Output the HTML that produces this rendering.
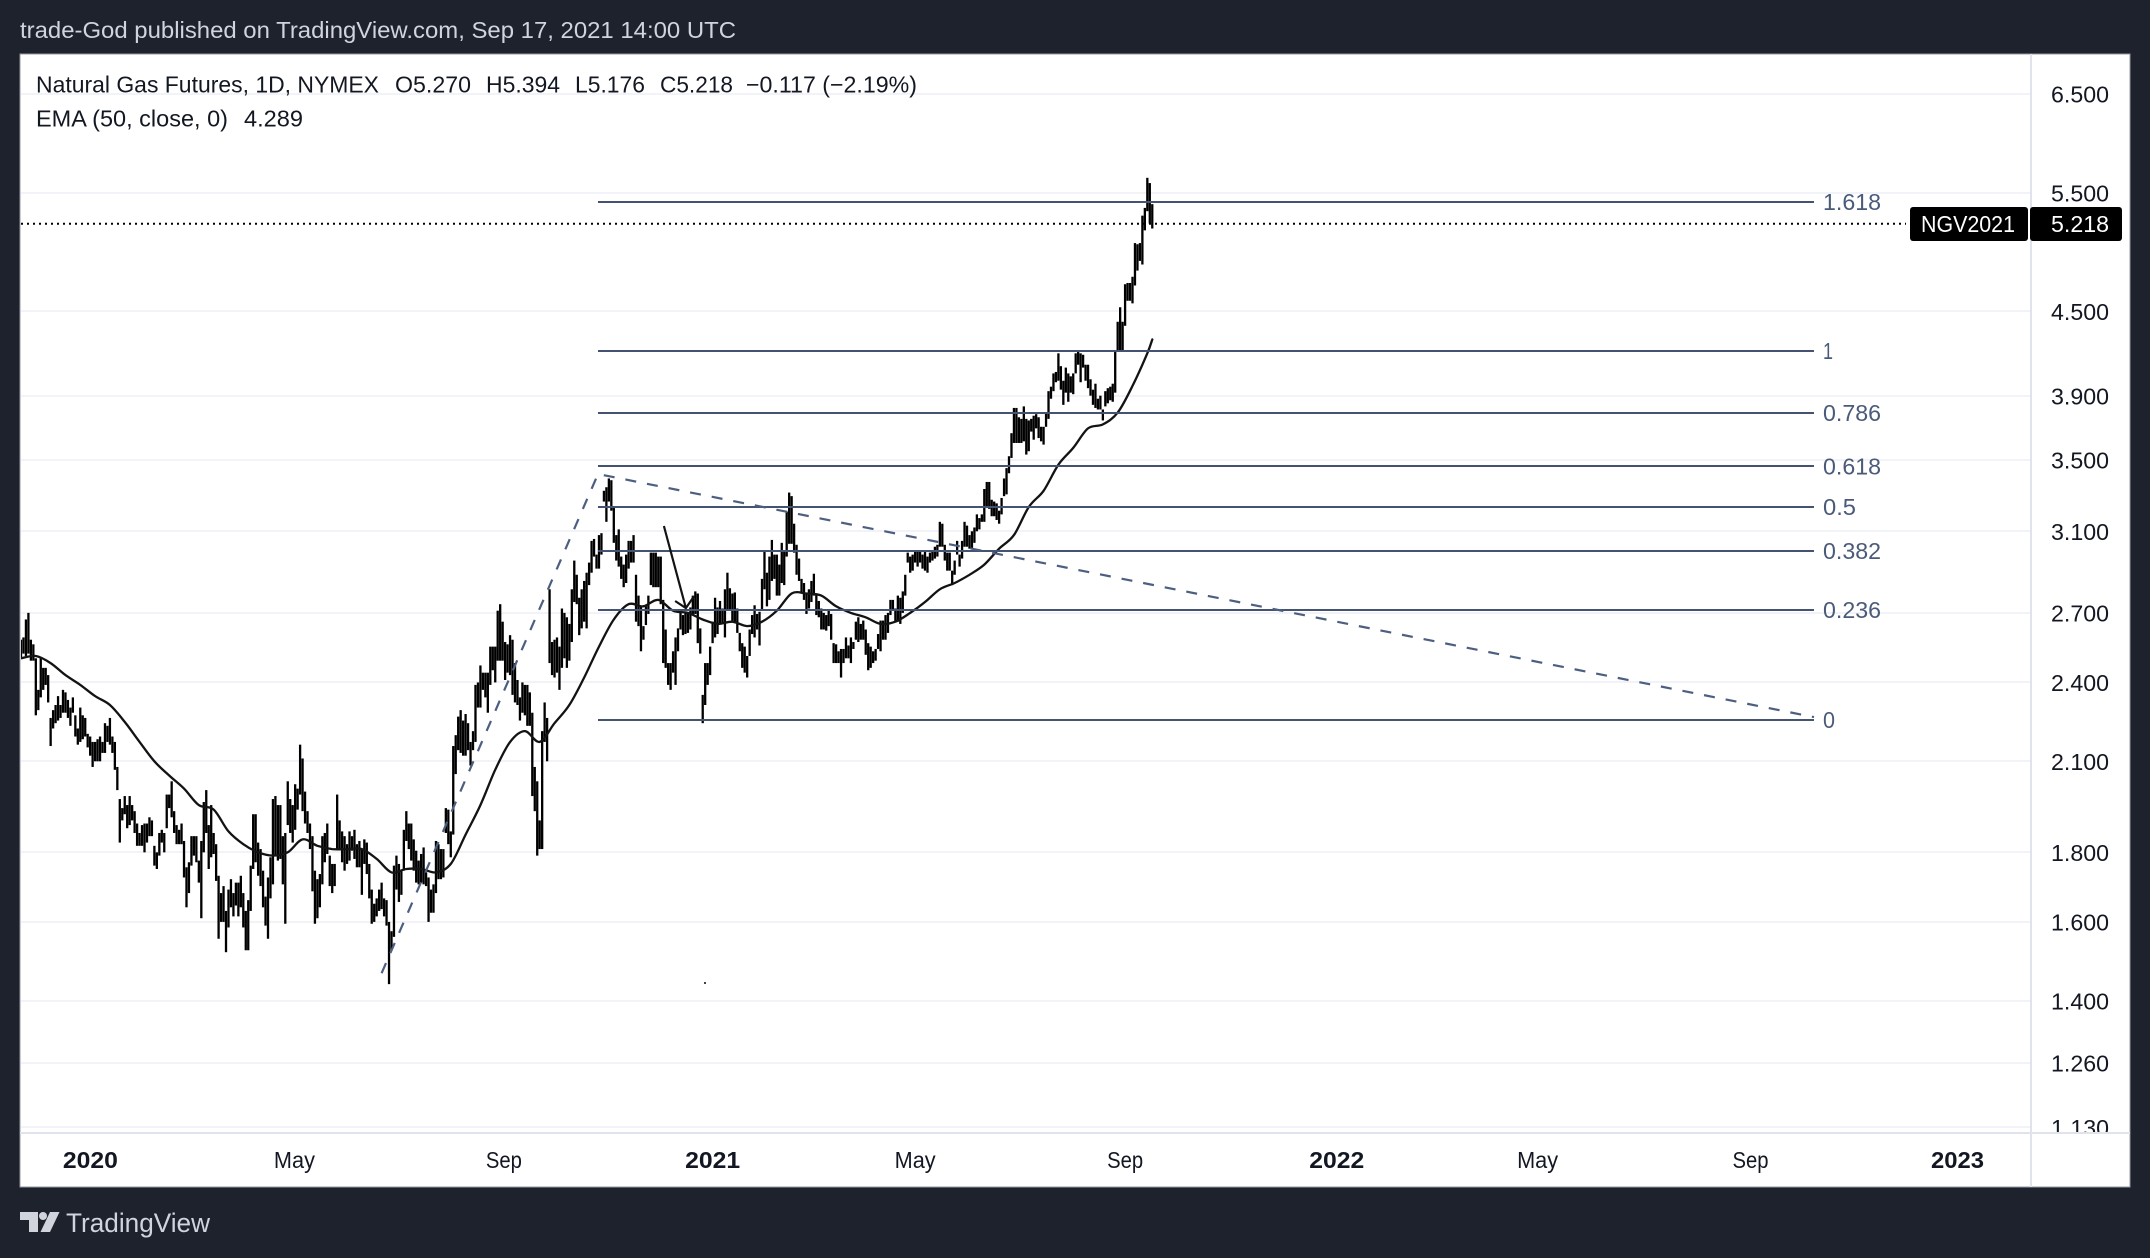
<!DOCTYPE html>
<html lang="en">
<head>
<meta charset="utf-8">
<title>Natural Gas Futures chart</title>
<style>
html,body{margin:0;padding:0;background:#1e222d;width:2150px;height:1258px;overflow:hidden}
svg{display:block;font-family:"Liberation Sans",sans-serif}
</style>
</head>
<body>
<svg id="chart" xmlns="http://www.w3.org/2000/svg" width="2150" height="1258" viewBox="0 0 2150 1258">
  <defs>
    <clipPath id="pane-clip"><rect x="21" y="55" width="2009" height="1077"/></clipPath>
    <clipPath id="axis-clip"><rect x="2032" y="55" width="97" height="1077"/></clipPath>
  </defs>
  <rect x="0" y="0" width="2150" height="1258" fill="#1e222d"/>
  <text x="20" y="38" font-size="23" fill="#d1d4dc" textLength="716" lengthAdjust="spacingAndGlyphs">trade-God published on TradingView.com, Sep 17, 2021 14:00 UTC</text>
  <rect x="20" y="54" width="2110" height="1133" fill="#ffffff" stroke="#9598a1" stroke-width="1"/>
  <g id="grid"></g>
  <g clip-path="url(#pane-clip)">
    <g id="bars"></g>
    <path id="ema" fill="none" stroke="#131313" stroke-width="2.3" stroke-linejoin="round" stroke-linecap="round"/>
    <g id="fib"></g>
    <path id="trend" fill="none" stroke="#4d5f80" stroke-width="2.2" stroke-dasharray="11 11"/>
    <path id="arrow" fill="none" stroke="#131313" stroke-width="2.2"/>
    <rect x="704" y="982" width="2" height="2" fill="#444"/>
    <line id="lastLine" x1="21" x2="1906" stroke="#000" stroke-width="2" stroke-dasharray="2 4"/>
  </g>
  <rect x="2030" y="54" width="2" height="1133" fill="#e0e3eb"/>
  <rect x="20" y="1132" width="2110" height="2" fill="#e0e3eb"/>
  <g id="yLabels" clip-path="url(#axis-clip)"></g>
  <g id="xLabels"></g>

  <g font-size="23" fill="#131722">
    <text x="36" y="92.5" textLength="343" lengthAdjust="spacingAndGlyphs">Natural Gas Futures, 1D, NYMEX</text>
    <text x="395" y="92.5" textLength="76" lengthAdjust="spacingAndGlyphs">O5.270</text>
    <text x="486" y="92.5" textLength="74" lengthAdjust="spacingAndGlyphs">H5.394</text>
    <text x="575" y="92.5" textLength="70" lengthAdjust="spacingAndGlyphs">L5.176</text>
    <text x="660" y="92.5" textLength="73" lengthAdjust="spacingAndGlyphs">C5.218</text>
    <text x="746" y="92.5" textLength="171" lengthAdjust="spacingAndGlyphs">−0.117 (−2.19%)</text>
    <text x="36" y="126.5" textLength="192" lengthAdjust="spacingAndGlyphs">EMA (50, close, 0)</text>
    <text x="244" y="126.5" textLength="59" lengthAdjust="spacingAndGlyphs">4.289</text>
  </g>

  <g id="lastTag">
    <rect x="1910" y="207" width="118" height="34" rx="3" fill="#000"/>
    <rect x="2030" y="207" width="92" height="34" rx="3" fill="#000"/>
    <text x="1921" y="232" font-size="23" fill="#fff" textLength="94" lengthAdjust="spacingAndGlyphs">NGV2021</text>
    <text x="2051" y="232" font-size="23" fill="#fff" textLength="58" lengthAdjust="spacingAndGlyphs">5.218</text>
  </g>

  <g fill="#d1d4dc">
    <path d="M20 1212h18v20h-9v-12h-9z"/>
    <circle cx="43" cy="1216" r="4"/>
    <polygon points="50,1212 59.5,1212 50,1232 40.5,1232"/>
    <text x="66" y="1232" font-size="27" textLength="144" lengthAdjust="spacingAndGlyphs">TradingView</text>
  </g>
</svg>
<script>
const highs = [
2.58,2.59,2.67,2.70,2.58,2.56,2.50,2.37,2.50,2.46,
2.46,2.43,2.26,2.29,2.31,2.345,2.31,2.37,2.36,2.33,
2.30,2.34,2.27,2.22,2.30,2.27,2.26,2.20,2.19,2.17,
2.17,2.18,2.19,2.17,2.24,2.23,2.26,2.19,2.17,2.08,
1.97,1.94,1.98,1.95,1.98,1.95,1.93,1.89,1.86,1.885,
1.89,1.89,1.91,1.90,1.82,1.80,1.86,1.87,1.86,1.985,
1.985,2.03,1.93,1.885,1.87,1.89,1.835,1.755,1.77,1.85,
1.85,1.85,1.775,1.835,1.96,2.00,1.885,1.95,1.86,1.825,
1.73,1.68,1.70,1.63,1.69,1.72,1.68,1.71,1.71,1.73,
1.68,1.63,1.66,1.76,1.92,1.92,1.83,1.81,1.745,1.67,
1.725,1.785,1.97,1.98,1.95,1.95,1.85,1.86,2.03,1.97,
1.95,2.02,2.005,2.16,2.11,1.995,1.93,1.89,1.85,1.745,
1.72,1.735,1.85,1.86,1.89,1.79,1.765,1.765,1.985,1.90,
1.865,1.85,1.825,1.865,1.85,1.87,1.825,1.835,1.81,1.84,
1.83,1.765,1.69,1.65,1.665,1.69,1.71,1.665,1.66,1.60,
1.575,1.76,1.79,1.765,1.745,1.87,1.93,1.89,1.89,1.84,
1.805,1.775,1.795,1.815,1.74,1.725,1.69,1.705,1.835,1.825,
1.81,1.81,1.94,1.935,1.865,2.155,2.195,2.265,2.29,2.25,
2.275,2.24,2.17,2.21,2.39,2.40,2.47,2.44,2.44,2.44,
2.55,2.55,2.55,2.71,2.74,2.66,2.57,2.56,2.60,2.58,
2.48,2.41,2.34,2.40,2.39,2.39,2.36,2.28,2.08,2.03,
1.90,2.21,2.32,2.26,2.81,2.57,2.58,2.59,2.55,2.72,
2.70,2.68,2.65,2.81,2.95,2.88,2.77,2.81,2.85,2.89,
2.94,3.05,3.06,2.98,3.08,3.09,3.32,3.34,3.39,3.38,
3.23,3.08,3.11,2.97,2.93,2.98,3.05,3.05,3.08,2.88,
2.78,2.73,2.64,2.73,2.78,2.99,2.99,2.99,2.97,2.97,
2.76,2.625,2.48,2.48,2.53,2.59,2.63,2.70,2.69,2.70,
2.70,2.725,2.78,2.80,2.79,2.63,2.35,2.48,2.48,2.55,
2.66,2.77,2.725,2.755,2.72,2.81,2.89,2.815,2.79,2.795,
2.72,2.61,2.565,2.55,2.51,2.625,2.69,2.735,2.695,2.705,
2.86,2.995,2.89,2.97,3.055,2.98,2.98,2.93,3.04,2.995,
3.205,3.31,3.29,3.14,3.03,2.96,2.86,2.84,2.79,2.81,
2.85,2.885,2.79,2.755,2.72,2.70,2.69,2.715,2.695,2.565,
2.56,2.53,2.54,2.54,2.59,2.555,2.59,2.57,2.66,2.68,
2.65,2.665,2.625,2.565,2.55,2.53,2.54,2.605,2.665,2.665,
2.69,2.70,2.76,2.76,2.72,2.78,2.77,2.80,2.88,2.99,
2.97,2.98,3.00,3.00,3.00,2.98,3.00,2.97,2.99,3.00,
3.02,3.03,3.15,3.14,3.03,2.99,2.99,2.90,2.95,3.05,
2.98,3.05,3.15,3.13,3.08,3.10,3.12,3.19,3.17,3.19,
3.33,3.37,3.37,3.27,3.26,3.25,3.21,3.28,3.39,3.45,
3.52,3.66,3.82,3.82,3.76,3.75,3.83,3.75,3.74,3.75,
3.77,3.78,3.76,3.70,3.70,3.79,3.93,3.96,4.05,4.06,
4.19,4.10,4.00,4.09,4.05,4.03,4.05,4.19,4.20,4.19,
4.18,4.11,4.11,4.01,3.94,3.98,3.88,3.90,3.81,3.93,
3.95,3.96,3.98,4.21,4.42,4.53,4.42,4.71,4.72,4.72,
4.77,5.05,5.04,5.05,5.29,5.36,5.64,5.59,5.394
];
const lows = [
2.50,2.52,2.51,2.52,2.49,2.49,2.27,2.29,2.34,2.37,
2.39,2.32,2.155,2.22,2.24,2.25,2.26,2.28,2.28,2.26,
2.23,2.28,2.19,2.16,2.17,2.18,2.19,2.15,2.12,2.08,
2.10,2.10,2.10,2.13,2.13,2.17,2.16,2.13,2.07,2.00,
1.83,1.90,1.92,1.875,1.885,1.90,1.86,1.82,1.82,1.82,
1.80,1.83,1.85,1.85,1.76,1.75,1.79,1.83,1.80,1.875,
1.94,1.91,1.86,1.825,1.825,1.825,1.725,1.64,1.68,1.76,
1.79,1.77,1.71,1.61,1.80,1.86,1.75,1.785,1.795,1.715,
1.555,1.60,1.60,1.52,1.585,1.64,1.615,1.645,1.615,1.64,
1.585,1.525,1.525,1.63,1.75,1.77,1.73,1.70,1.64,1.59,
1.555,1.665,1.705,1.79,1.775,1.78,1.705,1.595,1.885,1.86,
1.83,1.87,1.935,1.985,1.93,1.89,1.86,1.81,1.685,1.595,
1.61,1.64,1.705,1.77,1.795,1.70,1.68,1.70,1.81,1.81,
1.77,1.745,1.765,1.775,1.805,1.78,1.755,1.755,1.675,1.765,
1.735,1.665,1.595,1.60,1.615,1.63,1.635,1.615,1.59,1.44,
1.525,1.56,1.69,1.655,1.675,1.745,1.835,1.81,1.775,1.745,
1.71,1.705,1.71,1.705,1.70,1.60,1.625,1.625,1.68,1.72,
1.72,1.725,1.86,1.825,1.785,1.855,2.055,2.14,2.13,2.12,
2.12,2.14,2.085,2.14,2.17,2.30,2.30,2.37,2.34,2.28,
2.39,2.45,2.40,2.49,2.49,2.49,2.41,2.44,2.43,2.35,
2.32,2.31,2.25,2.28,2.27,2.23,2.23,1.98,1.93,1.79,
1.81,1.81,2.17,2.10,2.48,2.43,2.42,2.44,2.37,2.46,
2.50,2.46,2.49,2.57,2.75,2.74,2.60,2.63,2.66,2.63,
2.83,2.89,2.97,2.91,2.91,2.98,3.26,3.15,3.26,3.21,
3.04,2.95,2.92,2.86,2.82,2.84,2.91,2.94,2.94,2.66,
2.64,2.53,2.58,2.645,2.695,2.83,2.82,2.82,2.82,2.74,
2.48,2.46,2.39,2.37,2.44,2.39,2.53,2.625,2.60,2.605,
2.61,2.625,2.695,2.695,2.565,2.52,2.24,2.31,2.39,2.43,
2.565,2.59,2.605,2.65,2.65,2.59,2.71,2.71,2.665,2.66,
2.61,2.53,2.46,2.44,2.42,2.51,2.605,2.59,2.625,2.555,
2.71,2.81,2.73,2.76,2.85,2.86,2.78,2.78,2.84,2.83,
2.97,3.035,3.035,2.99,2.88,2.85,2.79,2.76,2.695,2.72,
2.75,2.78,2.69,2.68,2.625,2.625,2.62,2.64,2.58,2.48,
2.48,2.48,2.42,2.48,2.50,2.50,2.48,2.54,2.58,2.57,
2.58,2.58,2.515,2.45,2.46,2.48,2.49,2.54,2.53,2.58,
2.58,2.61,2.69,2.71,2.66,2.66,2.65,2.70,2.78,2.94,
2.89,2.90,2.94,2.92,2.94,2.91,2.90,2.89,2.94,2.95,
2.96,2.97,3.02,3.02,2.95,2.90,2.90,2.83,2.88,2.98,
2.92,2.96,3.02,3.02,3.01,3.01,3.04,3.10,3.11,3.15,
3.15,3.23,3.22,3.18,3.18,3.16,3.14,3.19,3.29,3.30,
3.42,3.51,3.60,3.60,3.60,3.60,3.61,3.53,3.55,3.67,
3.62,3.69,3.63,3.61,3.59,3.70,3.75,3.88,3.93,3.99,
4.00,3.94,3.84,3.92,3.86,3.92,3.91,4.05,4.11,3.99,
4.09,4.00,3.95,3.90,3.84,3.82,3.81,3.81,3.74,3.83,
3.85,3.87,3.86,3.92,4.21,4.21,4.21,4.39,4.58,4.58,
4.56,4.70,4.82,4.90,4.87,5.16,5.33,5.22,5.176
];
/* EMA(50) at every sixth bar; final value is the last bar */
const emaEverySixthBar = [
2.50,2.51,2.48,2.43,2.39,2.345,2.31,2.245,2.17,2.10,
2.05,2.005,1.95,1.935,1.865,1.825,1.80,1.79,1.80,1.84,
1.82,1.81,1.81,1.81,1.78,1.74,1.75,1.75,1.74,1.765,
1.855,1.95,2.07,2.17,2.21,2.17,2.24,2.31,2.42,2.55,
2.67,2.74,2.73,2.76,2.71,2.70,2.67,2.65,2.66,2.64,
2.66,2.71,2.79,2.79,2.78,2.73,2.70,2.68,2.65,2.66,
2.70,2.75,2.81,2.84,2.88,2.93,3.01,3.08,3.23,3.32,
3.47,3.57,3.69,3.715,3.79,3.965,4.19,4.289
];
const priceTicks = [6.5,5.5,4.5,3.9,3.5,3.1,2.7,2.4,2.1,1.8,1.6,1.4,1.26,1.13];
const timeTickLabels = ["2020","May","Sep","2021","May","Sep","2022","May","Sep","2023"];
const timeTickBars = [28.1,110.7,195.5,280,362,447,532.7,614,700.2,784];
const timeTickBold = [true,false,false,true,false,false,true,false,false,true];
const timeTickWidths = [55,41,36,55,41,36,55,41,36,53];
const fibRatios = [1.618,1,0.786,0.618,0.5,0.382,0.236,0];
const fibLabels = ["1.618","1","0.786","0.618","0.5","0.382","0.236","0"];
const fibLabelWidths = [58,10,58,58,33,58,58,12];
const fibZeroPrice = 2.253;
const fibOnePrice = 4.206;
const fibStartBar = 233.6;
const fibEndBar = 725.9;
const trendBars = [146,233.6,725.9];
const trendPrices = [1.467,3.416,2.263];
const arrowShaftBars = [260.3,269.2];
const arrowShaftPrices = [3.128,2.722];
const arrowHeadBars = [264.8,269.2,272.5];
const arrowHeadPrices = [2.755,2.722,2.778];
const lastPrice = 5.218;

const NS = "http://www.w3.org/2000/svg";
function xScale(bar){ return 21 + 2.47 * bar; }
function yScale(price){ return 94 + 590.6 * (Math.log(6.5) - Math.log(price)); }
function make(tag, parent, attrs, text){
  const el = document.createElementNS(NS, tag);
  for (const k in attrs) el.setAttribute(k, attrs[k]);
  if (text !== undefined) el.textContent = text;
  parent.appendChild(el);
  return el;
}

const gridG = document.getElementById("grid");
const yG = document.getElementById("yLabels");
priceTicks.forEach(function(p){
  const y = yScale(p);
  const g = make("line", gridG, {x1:21, x2:2030, y1:Math.round(y), y2:Math.round(y), stroke:"#f1f3f8", "stroke-width":2});
  
  
  const t = make("text", yG, {x:2051, y:y + 8.7, "font-size":23, fill:"#131722", textLength:58, lengthAdjust:"spacingAndGlyphs"}, p.toFixed(3));
  
  
});

const xG = document.getElementById("xLabels");
timeTickLabels.forEach(function(label, i){
  const w = timeTickWidths[i];
  const t = make("text", xG, {x:xScale(timeTickBars[i]) - w / 2, y:1168, "font-size":23, fill:"#131722", "font-weight":timeTickBold[i] ? "bold" : "normal", textLength:w, lengthAdjust:"spacingAndGlyphs"}, label);
  
  
});

const barsG = document.getElementById("bars");
highs.forEach(function(h, i){
  const top = yScale(h), bottom = yScale(lows[i]);
  const r = make("rect", barsG, {x:xScale(i) - 1.15, y:top, width:2.3, height:bottom - top, fill:"#000"});
  
  
});

const lastBar = highs.length - 1;
const emaPts = emaEverySixthBar.map(function(v, k){
  return [xScale(Math.min(k * 6, lastBar)), yScale(v)];
});
let emaPath = "M" + emaPts[0][0].toFixed(1) + " " + emaPts[0][1].toFixed(1);
for (let i = 0; i < emaPts.length - 1; i++) {
  const p0 = emaPts[Math.max(i - 1, 0)], p1 = emaPts[i], p2 = emaPts[i + 1], p3 = emaPts[Math.min(i + 2, emaPts.length - 1)];
  const c1x = p1[0] + (p2[0] - p0[0]) / 6, c1y = p1[1] + (p2[1] - p0[1]) / 6;
  const c2x = p2[0] - (p3[0] - p1[0]) / 6, c2y = p2[1] - (p3[1] - p1[1]) / 6;
  emaPath += " C" + c1x.toFixed(1) + " " + c1y.toFixed(1) + " " + c2x.toFixed(1) + " " + c2y.toFixed(1) + " " + p2[0].toFixed(1) + " " + p2[1].toFixed(1);
}
document.getElementById("ema").setAttribute("d", emaPath);

const fibG = document.getElementById("fib");
fibRatios.forEach(function(r, i){
  const y = yScale(fibZeroPrice + r * (fibOnePrice - fibZeroPrice));
  const l = make("line", fibG, {x1:xScale(fibStartBar), x2:xScale(fibEndBar), y1:Math.round(y), y2:Math.round(y), stroke:"#435371", "stroke-width":2});
  
  
  const t = make("text", fibG, {x:1823, y:y + 8, "font-size":23, fill:"#4a5b7a", textLength:fibLabelWidths[i], lengthAdjust:"spacingAndGlyphs"}, fibLabels[i]);
  
  
});

function pathFrom(bars, prices){
  return bars.map(function(b, i){
    return (i ? "L" : "M") + xScale(b).toFixed(1) + " " + yScale(prices[i]).toFixed(1);
  }).join(" ");
}
document.getElementById("trend").setAttribute("d", pathFrom(trendBars, trendPrices));
document.getElementById("arrow").setAttribute("d", pathFrom(arrowShaftBars, arrowShaftPrices) + " " + pathFrom(arrowHeadBars, arrowHeadPrices));

const lastY = yScale(lastPrice);
const lastLine = document.getElementById("lastLine");
lastLine.setAttribute("y1", lastY);
lastLine.setAttribute("y2", lastY);
</script>
</body>
</html>
